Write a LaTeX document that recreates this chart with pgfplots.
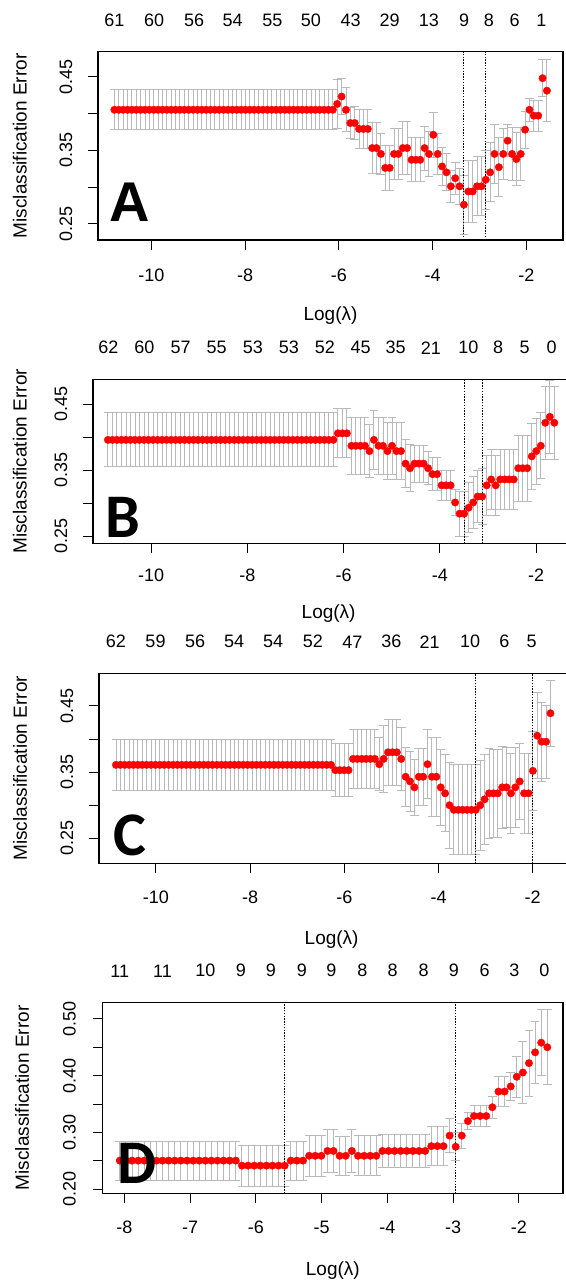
\documentclass[border=0pt]{standalone}
\usepackage{fontspec}
\setmainfont{Liberation Sans}
\newfontfamily\carlito{Carlito}
\usepackage{pgfplots}
\usepackage{pgfplotstable}
\pgfplotsset{compat=1.18}

\definecolor{errgray}{RGB}{185,185,185}
\definecolor{ptred}{RGB}{255,0,0}

% cross-validation curves: log(lambda), misclassification error, standard error
\pgfplotstableread{
x y e
-10.790 0.405 0.027
-10.697 0.405 0.027
-10.604 0.405 0.027
-10.510 0.405 0.027
-10.417 0.405 0.027
-10.324 0.405 0.027
-10.231 0.405 0.027
-10.138 0.405 0.027
-10.044 0.405 0.027
-9.951 0.405 0.027
-9.858 0.405 0.027
-9.765 0.405 0.027
-9.672 0.405 0.027
-9.578 0.405 0.027
-9.485 0.405 0.027
-9.392 0.405 0.027
-9.299 0.405 0.027
-9.206 0.405 0.027
-9.112 0.405 0.027
-9.019 0.405 0.027
-8.926 0.405 0.027
-8.833 0.405 0.027
-8.740 0.405 0.027
-8.646 0.405 0.027
-8.553 0.405 0.027
-8.460 0.405 0.027
-8.367 0.405 0.027
-8.274 0.405 0.027
-8.180 0.405 0.027
-8.087 0.405 0.027
-7.994 0.405 0.027
-7.901 0.405 0.027
-7.808 0.405 0.027
-7.714 0.405 0.027
-7.621 0.405 0.027
-7.528 0.405 0.027
-7.435 0.405 0.027
-7.342 0.405 0.027
-7.248 0.405 0.027
-7.155 0.405 0.027
-7.062 0.405 0.027
-6.969 0.405 0.027
-6.876 0.405 0.027
-6.782 0.405 0.027
-6.689 0.405 0.027
-6.596 0.405 0.027
-6.503 0.405 0.027
-6.410 0.405 0.027
-6.316 0.405 0.027
-6.223 0.405 0.027
-6.130 0.405 0.027
-6.037 0.413 0.033
-5.944 0.423 0.024
-5.850 0.405 0.030
-5.757 0.387 0.021
-5.664 0.387 0.022
-5.571 0.379 0.026
-5.478 0.379 0.026
-5.384 0.379 0.026
-5.291 0.353 0.035
-5.198 0.353 0.035
-5.105 0.345 0.028
-5.012 0.326 0.031
-4.918 0.326 0.031
-4.825 0.345 0.035
-4.732 0.345 0.035
-4.639 0.353 0.036
-4.546 0.353 0.036
-4.452 0.337 0.030
-4.359 0.337 0.030
-4.266 0.337 0.030
-4.173 0.353 0.030
-4.080 0.345 0.030
-3.986 0.371 0.031
-3.893 0.345 0.028
-3.800 0.328 0.026
-3.707 0.320 0.025
-3.613 0.301 0.022
-3.520 0.312 0.022
-3.427 0.301 0.024
-3.334 0.276 0.040
-3.241 0.294 0.042
-3.147 0.294 0.042
-3.054 0.301 0.040
-2.961 0.301 0.040
-2.868 0.310 0.040
-2.775 0.320 0.040
-2.681 0.345 0.040
-2.588 0.327 0.040
-2.495 0.345 0.035
-2.402 0.363 0.022
-2.308 0.345 0.036
-2.215 0.338 0.036
-2.122 0.345 0.036
-2.029 0.378 0.025
-1.936 0.405 0.016
-1.842 0.397 0.021
-1.749 0.397 0.021
-1.656 0.448 0.025
-1.563 0.431 0.042
}\dataA

\pgfplotstableread{
x y e
-10.900 0.396 0.041
-10.806 0.396 0.041
-10.713 0.396 0.041
-10.619 0.396 0.041
-10.525 0.396 0.041
-10.432 0.396 0.041
-10.338 0.396 0.041
-10.244 0.396 0.041
-10.150 0.396 0.041
-10.057 0.396 0.041
-9.963 0.396 0.041
-9.869 0.396 0.041
-9.776 0.396 0.041
-9.682 0.396 0.041
-9.588 0.396 0.041
-9.495 0.396 0.041
-9.401 0.396 0.041
-9.307 0.396 0.041
-9.213 0.396 0.041
-9.120 0.396 0.041
-9.026 0.396 0.041
-8.932 0.396 0.041
-8.839 0.396 0.041
-8.745 0.396 0.041
-8.651 0.396 0.041
-8.558 0.396 0.041
-8.464 0.396 0.041
-8.370 0.396 0.041
-8.276 0.396 0.041
-8.183 0.396 0.041
-8.089 0.396 0.041
-7.995 0.396 0.041
-7.902 0.396 0.041
-7.808 0.396 0.041
-7.714 0.396 0.041
-7.621 0.396 0.041
-7.527 0.396 0.041
-7.433 0.396 0.041
-7.339 0.396 0.041
-7.246 0.396 0.041
-7.152 0.396 0.041
-7.058 0.396 0.041
-6.965 0.396 0.041
-6.871 0.396 0.041
-6.777 0.396 0.041
-6.684 0.396 0.041
-6.590 0.396 0.041
-6.496 0.396 0.041
-6.402 0.396 0.041
-6.309 0.396 0.041
-6.215 0.396 0.041
-6.121 0.406 0.037
-6.028 0.406 0.037
-5.934 0.406 0.037
-5.840 0.387 0.043
-5.747 0.387 0.043
-5.653 0.387 0.043
-5.559 0.387 0.043
-5.465 0.379 0.040
-5.372 0.396 0.045
-5.278 0.387 0.043
-5.184 0.387 0.043
-5.091 0.379 0.043
-4.997 0.387 0.043
-4.903 0.379 0.043
-4.810 0.379 0.043
-4.716 0.360 0.036
-4.622 0.353 0.036
-4.528 0.360 0.028
-4.435 0.360 0.028
-4.341 0.360 0.028
-4.247 0.353 0.025
-4.154 0.344 0.025
-4.060 0.344 0.025
-3.966 0.327 0.023
-3.873 0.327 0.023
-3.779 0.327 0.023
-3.685 0.301 0.020
-3.591 0.284 0.034
-3.498 0.284 0.034
-3.404 0.293 0.038
-3.310 0.301 0.040
-3.217 0.310 0.040
-3.123 0.310 0.042
-3.029 0.327 0.045
-2.936 0.336 0.045
-2.842 0.327 0.045
-2.748 0.336 0.045
-2.654 0.336 0.045
-2.561 0.336 0.045
-2.467 0.336 0.045
-2.373 0.353 0.050
-2.280 0.353 0.050
-2.186 0.353 0.050
-2.092 0.371 0.050
-1.999 0.379 0.050
-1.905 0.387 0.050
-1.811 0.422 0.055
-1.717 0.431 0.055
-1.624 0.422 0.055
}\dataB

\pgfplotstableread{
x y e
-10.850 0.361 0.039
-10.757 0.361 0.039
-10.664 0.361 0.039
-10.570 0.361 0.039
-10.477 0.361 0.039
-10.384 0.361 0.039
-10.291 0.361 0.039
-10.198 0.361 0.039
-10.104 0.361 0.039
-10.011 0.361 0.039
-9.918 0.361 0.039
-9.825 0.361 0.039
-9.732 0.361 0.039
-9.638 0.361 0.039
-9.545 0.361 0.039
-9.452 0.361 0.039
-9.359 0.361 0.039
-9.266 0.361 0.039
-9.172 0.361 0.039
-9.079 0.361 0.039
-8.986 0.361 0.039
-8.893 0.361 0.039
-8.800 0.361 0.039
-8.706 0.361 0.039
-8.613 0.361 0.039
-8.520 0.361 0.039
-8.427 0.361 0.039
-8.334 0.361 0.039
-8.240 0.361 0.039
-8.147 0.361 0.039
-8.054 0.361 0.039
-7.961 0.361 0.039
-7.868 0.361 0.039
-7.774 0.361 0.039
-7.681 0.361 0.039
-7.588 0.361 0.039
-7.495 0.361 0.039
-7.402 0.361 0.039
-7.308 0.361 0.039
-7.215 0.361 0.039
-7.122 0.361 0.039
-7.029 0.361 0.039
-6.936 0.361 0.039
-6.842 0.361 0.039
-6.749 0.361 0.039
-6.656 0.361 0.039
-6.563 0.361 0.039
-6.470 0.361 0.039
-6.376 0.361 0.039
-6.283 0.361 0.039
-6.190 0.353 0.040
-6.097 0.353 0.040
-6.004 0.353 0.040
-5.910 0.353 0.040
-5.817 0.370 0.044
-5.724 0.370 0.044
-5.631 0.370 0.044
-5.538 0.370 0.044
-5.444 0.370 0.044
-5.351 0.370 0.044
-5.258 0.362 0.040
-5.165 0.370 0.050
-5.072 0.380 0.050
-4.978 0.380 0.050
-4.885 0.380 0.050
-4.792 0.370 0.048
-4.699 0.343 0.045
-4.606 0.336 0.045
-4.512 0.327 0.042
-4.419 0.343 0.043
-4.326 0.343 0.043
-4.233 0.362 0.052
-4.140 0.343 0.060
-4.046 0.343 0.060
-3.953 0.327 0.058
-3.860 0.318 0.058
-3.767 0.300 0.065
-3.674 0.293 0.068
-3.580 0.293 0.068
-3.487 0.293 0.068
-3.394 0.293 0.068
-3.301 0.293 0.068
-3.208 0.293 0.068
-3.114 0.300 0.068
-3.021 0.309 0.068
-2.928 0.318 0.068
-2.835 0.318 0.066
-2.742 0.318 0.066
-2.648 0.327 0.062
-2.555 0.327 0.060
-2.462 0.318 0.060
-2.369 0.327 0.060
-2.276 0.336 0.058
-2.182 0.318 0.060
-2.089 0.318 0.060
-1.996 0.352 0.060
-1.903 0.405 0.065
-1.810 0.396 0.060
-1.716 0.396 0.055
-1.623 0.439 0.050
}\dataC

\pgfplotstableread{
x y e
-8.070 0.2505 0.034
-7.977 0.2505 0.034
-7.884 0.2505 0.034
-7.791 0.2505 0.034
-7.698 0.2505 0.034
-7.606 0.2505 0.034
-7.513 0.2505 0.034
-7.420 0.2505 0.034
-7.327 0.2505 0.034
-7.234 0.2505 0.034
-7.141 0.2505 0.034
-7.048 0.2505 0.034
-6.955 0.2505 0.034
-6.862 0.2505 0.034
-6.769 0.2505 0.034
-6.677 0.2505 0.034
-6.584 0.2505 0.034
-6.491 0.2505 0.034
-6.398 0.2505 0.034
-6.305 0.2505 0.034
-6.212 0.2417 0.036
-6.119 0.2417 0.036
-6.026 0.2417 0.036
-5.933 0.2417 0.036
-5.840 0.2417 0.036
-5.748 0.2417 0.036
-5.655 0.2417 0.036
-5.562 0.2417 0.036
-5.469 0.2505 0.034
-5.376 0.2505 0.034
-5.283 0.2505 0.034
-5.190 0.259 0.036
-5.097 0.259 0.036
-5.004 0.259 0.036
-4.911 0.2675 0.037
-4.819 0.2675 0.037
-4.726 0.259 0.034
-4.633 0.259 0.034
-4.540 0.2675 0.037
-4.447 0.259 0.035
-4.354 0.259 0.035
-4.261 0.259 0.035
-4.168 0.259 0.035
-4.075 0.2675 0.029
-3.982 0.2675 0.029
-3.890 0.2675 0.029
-3.797 0.2675 0.029
-3.704 0.2675 0.029
-3.611 0.2675 0.029
-3.518 0.2675 0.029
-3.425 0.2675 0.029
-3.332 0.276 0.034
-3.239 0.276 0.034
-3.146 0.276 0.034
-3.053 0.2945 0.030
-2.961 0.275 0.025
-2.868 0.2945 0.022
-2.775 0.320 0.015
-2.682 0.329 0.018
-2.589 0.329 0.018
-2.496 0.329 0.018
-2.403 0.3444 0.019
-2.310 0.372 0.026
-2.217 0.372 0.026
-2.124 0.381 0.025
-2.032 0.398 0.036
-1.939 0.4055 0.054
-1.846 0.422 0.058
-1.753 0.441 0.054
-1.660 0.458 0.058
-1.567 0.450 0.066
}\dataD

\tikzset{boxframe/.style={draw=black, line width=1.3pt, line cap=rect}}

\pgfplotsset{
  cvpanel/.style={
    scale only axis,
    anchor=south west,
    clip=false,
    axis line style={draw=black, line width=1.2pt},
    tick align=outside,
    xtick pos=bottom, ytick pos=left,
    major tick length=10pt,
    major tick style={draw=black, line width=1pt},
    tick label style={font=\fontsize{18}{20}\selectfont, inner sep=0pt},
    xticklabel style={anchor=north},
    yticklabel style={rotate=90, anchor=south},
    label style={font=\fontsize{19}{21}\selectfont},
    xlabel={Log(λ)},
    ylabel={Misclassification Error},
  },
  toplabels/.style={
    scale only axis,
    anchor=south west,
    ymin=0, ymax=1,
    axis x line*=top,
    hide y axis,
    x axis line style={draw=none},
    major tick length=0pt,
    xticklabel style={font=\fontsize{18}{20}\selectfont, inner sep=0pt, anchor=south, yshift=25pt},
  },
  errbars/.style={
    draw=none, forget plot,
    error bars/.cd, y dir=both, y explicit,
    error bar style={draw=errgray, line width=0.9pt},
    error mark options={rotate=90, draw=errgray, line width=0.9pt, mark size=4.4pt},
  },
  cvpoints/.style={only marks, mark=*, mark size=3.7pt, color=ptred, mark options={draw=ptred, fill=ptred}},
  minline/.style={black, line width=1.1pt, dash pattern=on 1.4pt off 1.4pt},
}

\begin{document}
\begin{tikzpicture}
\useasboundingbox (0pt,0pt) rectangle (565pt,-1281pt);

% ---------------- A ----------------
\begin{axis}[cvpanel, at={(98pt,-240pt)}, width=465pt, height=188.3pt,
  xmin=-11.14, xmax=-1.22, ymin=0.228, ymax=0.484,
  xtick={-10,-8,-6,-4,-2}, xticklabels={-10,-8,-6,-4,-2},
  ytick={0.25,0.30,0.35,0.40,0.45}, yticklabels={0.25,,0.35,,0.45},
  xticklabel style={yshift=-18.5pt}, yticklabel style={yshift=15.5pt},
  xlabel style={at={(axis description cs:0.5,-0.404)}, anchor=center},
  ylabel style={at={(axis description cs:-0.168,0.5)}, anchor=center}]
  \addplot[errbars] table[x=x, y=y, y error=e] {\dataA};
  \addplot[cvpoints] table[x=x, y=y] {\dataA};
  \addplot[minline] coordinates {(-3.334,0.228) (-3.334,0.484)};
  \addplot[minline] coordinates {(-2.868,0.228) (-2.868,0.484)};
\end{axis}
\begin{axis}[toplabels, at={(98pt,-240pt)}, width=465pt, height=188.3pt,
  xmin=-11.14, xmax=-1.22,
  xtick={-10.79,-9.94,-9.09,-8.27,-7.42,-6.60,-5.75,-4.92,-4.08,-3.33,-2.80,-2.25,-1.68},
  xticklabels={61,60,56,54,55,50,43,29,13,9,8,6,1}]
\end{axis}
\node[font=\fontsize{56}{56}\selectfont\bfseries] at (130pt,-202pt) {A};

% ---------------- B ----------------
\begin{axis}[cvpanel, at={(93pt,-543.3pt)}, width=478pt, height=164pt,
  xmin=-11.21, xmax=-1.277, ymin=0.239, ymax=0.488,
  xtick={-10,-8,-6,-4,-2}, xticklabels={-10,-8,-6,-4,-2},
  ytick={0.25,0.30,0.35,0.40,0.45}, yticklabels={0.25,,0.35,,0.45},
  xticklabel style={yshift=-15.2pt}, yticklabel style={yshift=15.5pt},
  xlabel style={at={(axis description cs:0.493,-0.427)}, anchor=center},
  ylabel style={at={(axis description cs:-0.153,0.5)}, anchor=center}]
  \addplot[errbars] table[x=x, y=y, y error=e] {\dataB};
  \addplot[cvpoints] table[x=x, y=y] {\dataB};
  \addplot[minline] coordinates {(-3.498,0.239) (-3.498,0.488)};
  \addplot[minline] coordinates {(-3.123,0.239) (-3.123,0.488)};
\end{axis}
\begin{axis}[toplabels, at={(93pt,-543.3pt)}, width=478pt, height=164pt,
  xmin=-11.21, xmax=-1.277,
  xtick={-10.89,-10.14,-9.39,-8.64,-7.89,-7.14,-6.39,-5.65,-4.92,-4.19,-3.41,-2.79,-2.24,-1.68},
  xticklabels={62,60,57,55,53,53,52,45,35,21,10,8,5,0}]
\end{axis}
\node[font=\fontsize{62}{62}\selectfont\carlito\bfseries] at (122.5pt,-517.5pt) {B};

% ---------------- C ----------------
\begin{axis}[cvpanel, at={(99pt,-863.3pt)}, width=469pt, height=190pt,
  xmin=-11.21, xmax=-1.25, ymin=0.2122, ymax=0.4994,
  xtick={-10,-8,-6,-4,-2}, xticklabels={-10,-8,-6,-4,-2},
  ytick={0.25,0.30,0.35,0.40,0.45}, yticklabels={0.25,,0.35,,0.45},
  xticklabel style={yshift=-17.2pt}, yticklabel style={yshift=15.5pt},
  xlabel style={at={(axis description cs:0.496,-0.404)}, anchor=center},
  ylabel style={at={(axis description cs:-0.168,0.5)}, anchor=center}]
  \addplot[errbars] table[x=x, y=y, y error=e] {\dataC};
  \addplot[cvpoints] table[x=x, y=y] {\dataC};
  \addplot[minline] coordinates {(-3.208,0.2122) (-3.208,0.4994)};
  \addplot[minline] coordinates {(-1.996,0.2122) (-1.996,0.4994)};
\end{axis}
\begin{axis}[toplabels, at={(99pt,-863.3pt)}, width=469pt, height=190pt,
  xmin=-11.21, xmax=-1.25,
  xtick={-10.85,-10.01,-9.17,-8.34,-7.51,-6.67,-5.83,-5.00,-4.19,-3.33,-2.60,-2.02},
  xticklabels={62,59,56,54,54,52,47,36,21,10,6,5}]
\end{axis}
\node[font=\fontsize{62}{62}\selectfont\carlito\bfseries] at (129.5pt,-835pt) {C};

% ---------------- D ----------------
\begin{axis}[cvpanel, at={(102.7pt,-1193.3pt)}, width=460.2pt, height=191pt,
  xmin=-8.33, xmax=-1.33, ymin=0.193, ymax=0.529,
  xtick={-8,-7,-6,-5,-4,-3,-2}, xticklabels={-8,-7,-6,-5,-4,-3,-2},
  ytick={0.20,0.25,0.30,0.35,0.40,0.45,0.50}, yticklabels={0.20,,0.30,,0.40,,0.50},
  xticklabel style={yshift=-17.2pt}, yticklabel style={yshift=16.7pt},
  xlabel style={at={(axis description cs:0.5,-0.402)}, anchor=center},
  ylabel style={at={(axis description cs:-0.175,0.5)}, anchor=center}]
  \addplot[errbars] table[x=x, y=y, y error=e] {\dataD};
  \addplot[cvpoints] table[x=x, y=y] {\dataD};
  \addplot[minline] coordinates {(-5.562,0.193) (-5.562,0.529)};
  \addplot[minline] coordinates {(-2.961,0.193) (-2.961,0.529)};
\end{axis}
\begin{axis}[toplabels, at={(102.7pt,-1193.3pt)}, width=460.2pt, height=191pt,
  xmin=-8.33, xmax=-1.33,
  xtick={-8.07,-7.42,-6.77,-6.23,-5.77,-5.30,-4.85,-4.38,-3.92,-3.45,-2.99,-2.52,-2.07,-1.61},
  xticklabels={11,11,10,9,9,9,9,8,8,8,9,6,3,0}]
\end{axis}
\node[font=\fontsize{62}{62}\selectfont\carlito\bfseries] at (137pt,-1163pt) {D};

% frames of the four panels, drawn last
\draw[boxframe] (98pt,-240pt) -- (98pt,-51.7pt) -- (562.5pt,-51.7pt) -- (562.5pt,-240pt) -- cycle;
\draw[boxframe] (93pt,-543.3pt) -- (93pt,-379.3pt) -- (571pt,-379.3pt) -- (571pt,-543.3pt) -- cycle;
\draw[boxframe] (99pt,-863.3pt) -- (99pt,-673.3pt) -- (568pt,-673.3pt) -- (568pt,-863.3pt) -- cycle;
\draw[boxframe] (102.7pt,-1193.3pt) -- (102.7pt,-1002.3pt) -- (562.9pt,-1002.3pt) -- (562.9pt,-1193.3pt) -- cycle;

\end{tikzpicture}
\end{document}
